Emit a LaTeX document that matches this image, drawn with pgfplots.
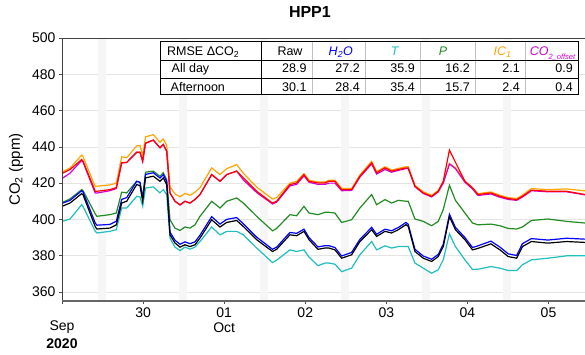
\documentclass[border=0pt]{standalone}
\usepackage{fontspec}
\setmainfont{Liberation Sans}
\usepackage{pgfplots}
\usepackage{pgfplotstable}
\pgfplotsset{compat=1.18}

\definecolor{cRef}{RGB}{255,0,0}
\definecolor{cRaw}{RGB}{0,0,0}
\definecolor{cH2O}{RGB}{0,0,255}
\definecolor{cT}{RGB}{32,190,190}
\definecolor{cP}{RGB}{34,139,34}
\definecolor{cIC}{RGB}{255,165,0}
\definecolor{cOff}{RGB}{210,0,210}
\definecolor{band}{RGB}{246,246,246}
\definecolor{gridc}{RGB}{228,228,228}

% days since 29 Sep 2020 00:00; CO2 in ppm
% ref = reference analyser, raw = uncorrected sensor, then corrected versions
\pgfplotstableread{
t     ref   raw   h2o   tt    p     ic    off
0.000 425.3 407.2 408.8 398.9 409.2 426.2 422.5
0.099 427.5 409.0 410.5 400.2 411.3 428.3 425.5
0.243 433.0 414.2 415.8 408.1 416.4 435.5 432.5
0.260 432.0 413.5 415.0 407.0 415.8 434.5 431.5
0.410 415.5 396.0 398.0 393.5 403.0 418.0 414.5
0.430 415.5 394.7 396.8 392.5 401.7 418.3 414.5
0.590 416.4 395.2 397.2 393.4 402.6 419.0 415.8
0.670 417.5 397.0 399.0 394.3 403.5 420.0 417.0
0.736 431.4 409.0 411.0 406.3 415.0 434.5 431.0
0.798 431.4 410.0 412.0 406.3 414.6 434.0 431.4
0.921 437.0 419.2 421.0 412.7 421.0 440.5 437.0
0.962 437.0 418.6 420.4 412.4 420.5 440.8 437.0
0.995 432.0 410.0 411.5 407.2 411.8 435.0 432.0
1.030 442.0 422.9 424.8 417.3 426.0 445.5 442.0
1.126 443.7 423.8 425.7 417.9 426.6 446.7 443.7
1.208 439.5 421.0 422.8 414.6 423.8 442.5 439.5
1.249 441.3 422.9 424.7 416.4 425.7 444.3 441.3
1.291 437.6 419.2 421.0 413.7 422.0 440.7 437.6
1.332 414.6 391.5 393.0 389.7 399.8 418.0 414.6
1.393 410.0 387.0 388.5 384.7 395.2 414.0 410.0
1.455 408.0 384.7 386.3 382.8 393.9 412.5 408.0
1.517 410.0 386.0 387.6 384.7 395.8 414.3 410.0
1.578 409.0 385.0 386.6 383.6 395.2 413.3 409.0
1.640 411.0 386.0 387.6 384.7 397.0 415.0 411.0
1.702 413.7 389.7 391.3 387.8 401.7 417.5 413.7
1.846 424.7 399.8 401.5 395.8 410.0 428.4 424.7
1.948 421.0 395.8 397.4 391.5 406.3 424.7 421.0
2.031 424.7 398.3 400.0 393.4 410.0 428.0 424.7
2.154 426.6 399.4 401.0 393.4 411.8 430.2 426.6
2.236 423.0 396.1 397.6 391.5 409.0 425.5 421.8
2.401 415.5 388.8 390.2 384.2 401.7 417.8 414.8
2.596 409.0 382.3 383.5 376.2 393.7 411.2 408.5
2.647 410.0 383.5 384.7 377.5 395.0 412.0 409.5
2.811 419.2 391.5 392.8 383.2 402.6 420.0 418.5
2.894 420.1 391.0 392.3 382.3 402.0 421.0 419.3
2.984 424.7 393.4 394.6 383.2 407.2 425.2 424.0
3.046 421.0 388.8 390.0 379.2 403.5 421.6 420.5
3.157 420.1 383.5 384.8 374.5 402.6 420.6 419.3
3.243 420.1 384.2 385.5 375.9 403.9 420.6 419.3
3.292 421.0 384.2 385.5 375.9 403.9 421.6 420.0
3.366 421.0 383.2 384.5 375.3 403.5 421.6 420.0
3.449 416.4 378.6 379.8 371.2 398.3 417.0 415.8
3.572 416.4 380.5 381.8 373.1 399.8 417.0 416.0
3.674 423.8 387.8 389.0 380.5 406.3 424.5 423.3
3.819 431.2 394.3 395.6 387.8 413.7 432.0 430.6
3.880 425.7 390.6 391.8 383.2 408.1 426.3 425.0
3.983 428.4 393.4 394.6 385.4 410.9 429.0 427.5
4.065 426.6 392.5 393.7 384.2 409.0 427.2 426.0
4.147 427.5 394.3 395.5 385.0 410.5 428.1 427.0
4.242 428.4 397.1 398.3 385.0 410.0 429.0 428.0
4.270 428.4 396.1 397.3 385.0 410.0 429.0 428.0
4.353 418.3 382.3 383.5 375.9 400.2 418.8 418.0
4.455 414.6 378.6 379.8 373.1 398.9 415.2 414.3
4.559 412.7 376.8 378.0 370.3 396.5 413.3 412.4
4.640 415.5 379.5 380.7 372.2 398.9 416.0 415.2
4.702 421.0 385.0 386.3 377.7 405.4 420.5 420.0
4.778 438.2 401.5 402.8 392.0 418.8 430.8 430.5
4.852 431.5 394.3 395.6 385.0 410.5 428.5 428.0
4.969 421.0 388.8 390.0 377.7 403.5 421.0 420.5
5.062 417.4 383.2 384.5 372.4 398.0 417.5 416.8
5.129 413.7 384.0 385.4 372.5 397.0 414.2 413.2
5.290 414.6 386.5 388.0 374.0 397.4 415.1 414.0
5.401 412.7 383.2 384.7 373.1 396.5 413.3 412.2
5.503 411.5 379.5 381.0 371.8 395.0 412.0 411.0
5.607 410.9 378.6 380.1 371.8 394.7 411.5 410.5
5.678 412.7 385.0 386.6 375.0 395.8 413.4 412.3
5.789 416.1 387.8 389.4 377.7 399.4 417.0 415.8
5.993 415.5 386.9 388.6 378.6 400.2 416.4 415.2
6.223 415.5 387.8 389.6 379.9 398.9 416.8 415.2
6.450 413.7 387.3 389.1 379.9 398.0 415.7 413.5
}\cotable

\begin{document}
\begin{tikzpicture}
\useasboundingbox (0pt,0pt) rectangle (585pt,354pt);
\begin{axis}[
  at={(62pt,53pt)}, anchor=south west,
  scale only axis, width=523pt, height=263pt,
  xmin=0, xmax=6.45, ymin=355, ymax=500,
  ytick={360,380,...,500},
  xtick={0,1,2,3,4,5,6},
  xticklabels={{},30,{01\\Oct},02,03,04,05},
  xticklabel style={align=center, font=\fontsize{14}{15}\selectfont},
  yticklabel style={font=\fontsize{14}{16}\selectfont},
  /pgf/number format/assume math mode=true,
  ymajorgrids, major grid style={gridc, line width=0.6pt},
  xtick pos=lower, ytick pos=left,
  tick align=outside, major tick length=3pt,
  tick style={black!70, line width=0.6pt},
  axis line style={black!75, line width=0.7pt},
  ylabel={CO\textsubscript{2} (ppm)},
  ylabel style={at={(axis description cs:0,0.5)}, anchor=center, yshift=46pt,
    font=\fontsize{15}{17}\selectfont},
  title={\textbf{HPP1}},
  title style={at={(axis description cs:0.474,1)}, anchor=center, yshift=20pt,
    font=\fontsize{16}{18}\selectfont},
  clip=true,
]
% afternoon windows
\addplot[draw=none, fill=band] coordinates {(0.44,355)(0.44,500)(0.54,500)(0.54,355)} -- cycle;
\addplot[draw=none, fill=band] coordinates {(1.44,355)(1.44,500)(1.54,500)(1.54,355)} -- cycle;
\addplot[draw=none, fill=band] coordinates {(2.44,355)(2.44,500)(2.54,500)(2.54,355)} -- cycle;
\addplot[draw=none, fill=band] coordinates {(3.44,355)(3.44,500)(3.54,500)(3.54,355)} -- cycle;
\addplot[draw=none, fill=band] coordinates {(4.44,355)(4.44,500)(4.54,500)(4.54,355)} -- cycle;
\addplot[draw=none, fill=band] coordinates {(5.44,355)(5.44,500)(5.54,500)(5.54,355)} -- cycle;

\addplot[cT,   line width=1.2pt] table[x=t, y=tt]  {\cotable};
\addplot[cP,   line width=1.2pt] table[x=t, y=p]   {\cotable};
\addplot[cH2O, line width=1.2pt] table[x=t, y=h2o] {\cotable};
\addplot[cRaw, line width=1.2pt] table[x=t, y=raw] {\cotable};
\addplot[cIC,  line width=1.2pt] table[x=t, y=ic]  {\cotable};
\addplot[cOff, line width=1.2pt] table[x=t, y=off] {\cotable};
\addplot[cRef, line width=1.2pt] table[x=t, y=ref] {\cotable};

% frame lines over the shaded windows
\draw[black!75, line width=0.7pt] (rel axis cs:0,1) -- (rel axis cs:1,1);
\draw[black!75, line width=0.7pt] (rel axis cs:0,0) -- (rel axis cs:0,1);
\draw[black!60, line width=1.6pt] (rel axis cs:0,0) -- (rel axis cs:1,0);
\end{axis}

% date labels of the first tick
\node[anchor=base, font=\fontsize{14}{15}\selectfont] at (62pt,24pt) {Sep};
\node[anchor=base, font=\fontsize{14}{15}\selectfont\bfseries] at (62pt,6pt) {2020};

% RMSE table
\fill[white] (160pt,259pt) rectangle (578pt,312pt);
\foreach \xx in {312,365,420,475,525}
  \draw[black!25, line width=0.5pt] (\xx pt,259pt) -- (\xx pt,312pt);
\draw[black, line width=0.8pt] (160pt,294pt) -- (578pt,294pt);
\draw[black, line width=0.8pt] (160pt,276pt) -- (578pt,276pt);
\draw[black, line width=1pt] (261pt,259pt) -- (261pt,312pt);
\draw[black, line width=1pt] (160pt,259pt) rectangle (578pt,312pt);
\begin{scope}[every node/.style={font=\fontsize{12.5}{14}\selectfont, inner sep=0pt}]
  \node[anchor=base west] at (167pt,298.3pt) {RMSE ΔCO\textsubscript{2}};
  \node[anchor=base west] at (171.5pt,281pt) {All day};
  \node[anchor=base west] at (170.5pt,262.7pt) {Afternoon};
  \node[anchor=base] at (290pt,298.3pt) {Raw};
  \node[anchor=base, text=cH2O] at (340.8pt,298.3pt) {\textit{H\textsubscript{2}O}};
  \node[anchor=base, text=cT] at (395pt,298.3pt) {\textit{T}};
  \node[anchor=base, text=cP] at (443pt,298.3pt) {\textit{P}};
  \node[anchor=base, text=cIC] at (502.5pt,298.3pt) {\textit{IC\textsubscript{1}}};
  \node[anchor=base, text=cOff] at (552.5pt,298.3pt) {\textit{CO\raisebox{-0.3em}{\fontsize{7.5}{8}\selectfont 2\_offset}}};
  \node[anchor=base east] at (306.7pt,281pt) {28.9};
  \node[anchor=base east] at (360pt,281pt) {27.2};
  \node[anchor=base east] at (415pt,281pt) {35.9};
  \node[anchor=base east] at (470pt,281pt) {16.2};
  \node[anchor=base east] at (520pt,281pt) {2.1};
  \node[anchor=base east] at (573pt,281pt) {0.9};
  \node[anchor=base east] at (306.7pt,262.7pt) {30.1};
  \node[anchor=base east] at (360pt,262.7pt) {28.4};
  \node[anchor=base east] at (415pt,262.7pt) {35.4};
  \node[anchor=base east] at (470pt,262.7pt) {15.7};
  \node[anchor=base east] at (520pt,262.7pt) {2.4};
  \node[anchor=base east] at (573pt,262.7pt) {0.4};
\end{scope}
\end{tikzpicture}
\end{document}
